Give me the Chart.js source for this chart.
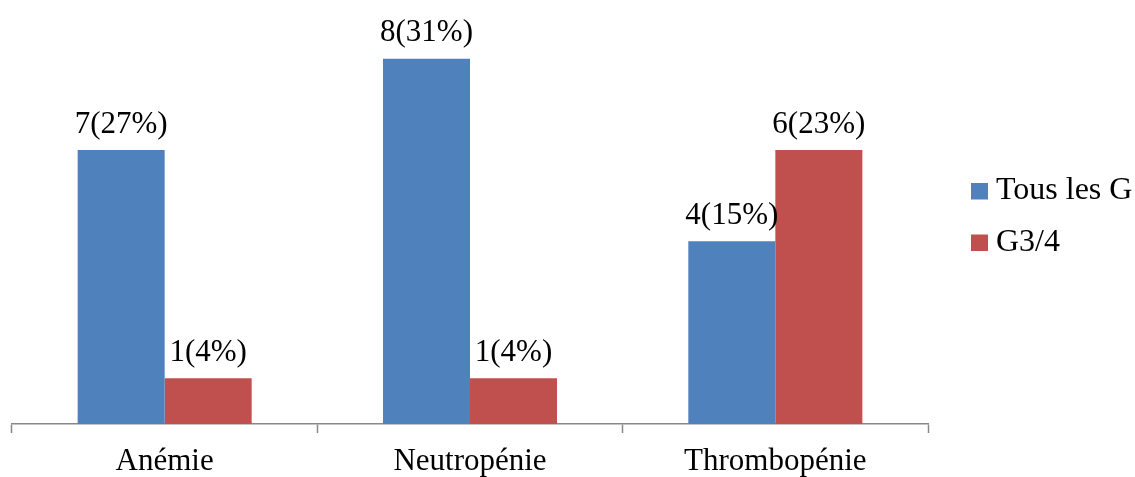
<!DOCTYPE html>
<html>
<head>
<meta charset="utf-8">
<script src="https://cdn.jsdelivr.net/npm/chart.js@4"></script>
<style>
  body { margin: 0; background: #fff; }
</style>
</head>
<body>
<canvas id="myChart" width="1135" height="477"></canvas>
<script>
const categories = ["Anémie", "Neutropénie", "Thrombopénie"];
const seriesNames = ["Tous les G", "G3/4"];
const seriesColors = ["#4F81BD", "#C0504D"];
// bar heights as drawn in the picture (the Anémie bar sits at the 6 level)
const tousValues = [6, 8, 4];
const g34Values = [1, 1, 6];
const tousLabels = ["7(27%)", "8(31%)", "4(15%)"];
const g34Labels = ["1(4%)", "1(4%)", "6(23%)"];

const FONT = "'Liberation Serif', 'Times New Roman', serif";

const barLabels = {
  id: "barLabels",
  afterDatasetsDraw(chart) {
    const ctx = chart.ctx;
    const labels = [tousLabels, g34Labels];
    ctx.save();
    ctx.font = "31px " + FONT;
    ctx.fillStyle = "#000";
    ctx.textAlign = "center";
    ctx.textBaseline = "alphabetic";
    chart.data.datasets.forEach((ds, i) => {
      chart.getDatasetMeta(i).data.forEach((bar, j) => {
        ctx.fillText(labels[i][j], bar.x, bar.y - 17.5);
      });
    });
    ctx.restore();
  }
};

const sideLegend = {
  id: "sideLegend",
  afterDraw(chart) {
    const ctx = chart.ctx;
    ctx.save();
    ctx.font = "32px " + FONT;
    ctx.textBaseline = "middle";
    ctx.textAlign = "left";
    seriesNames.forEach((name, i) => {
      const y = 191 + i * 51.5;
      ctx.fillStyle = seriesColors[i];
      ctx.fillRect(971, y - 8, 17, 16.5);
      ctx.fillStyle = "#000";
      ctx.fillText(name, 996, y);
    });
    ctx.restore();
  }
};

new Chart(document.getElementById("myChart").getContext("2d"), {
  type: "bar",
  data: {
    labels: categories,
    datasets: [
      { label: seriesNames[0], data: tousValues, backgroundColor: seriesColors[0] },
      { label: seriesNames[1], data: g34Values, backgroundColor: seriesColors[1] }
    ]
  },
  options: {
    responsive: false,
    animation: false,
    layout: { padding: { left: 12, right: 207, top: 13, bottom: 0 } },
    datasets: {
      bar: { categoryPercentage: 0.57, barPercentage: 1.0 }
    },
    plugins: {
      legend: { display: false },
      tooltip: { enabled: false }
    },
    scales: {
      x: {
        grid: {
          offset: true,
          drawOnChartArea: false,
          drawTicks: true,
          tickLength: 9,
          tickWidth: 1.5,
          color: "#888888"
        },
        border: { display: true, color: "#888888", width: 1.5 },
        ticks: {
          color: "#000",
          padding: 10,
          font: { family: FONT, size: 31 }
        },
        afterFit(scale) { scale.height = 53; }
      },
      y: {
        display: false,
        min: 0,
        max: 9
      }
    }
  },
  plugins: [barLabels, sideLegend]
});
</script>
</body>
</html>
